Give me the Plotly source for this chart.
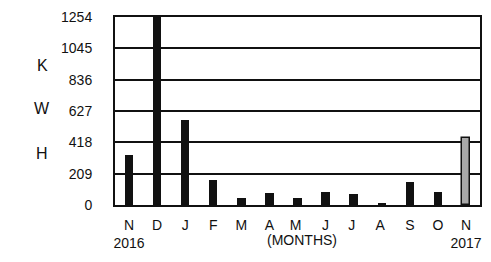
import plotly.graph_objects as go

months = ["N<br>2016", "D", "J", "F", "M", "A", "M ", "J", "J ", "A ", "S", "O", "N<br>2017"]
kwh = [335, 1254, 570, 168, 45, 80, 50, 90, 75, 15, 155, 90, 450]
colors = ["#111111"] * 12 + ["#a8a8a8"]
yticks = [0, 209, 418, 627, 836, 1045, 1254]

# the page body has an 8px margin and clips at its content box; fit inside it
OFF = 8
L, T = 115 - OFF, 17 - OFF
W, H = 491 - 2 * OFF, 262 - 2 * OFF
PW, PH = W - L - 1, 188

fig = go.Figure()
fig.add_trace(go.Bar(
    x=list(range(len(months))), y=kwh, width=0.3,
    marker=dict(color=colors, line=dict(color="#111111", width=[0] * 12 + [1.5])),
))

fig.update_layout(
    width=W, height=H,
    margin=dict(l=L, r=W - L - PW, t=T, b=H - T - PH, pad=0),
    paper_bgcolor="white", plot_bgcolor="white",
    showlegend=False,
    font=dict(family="Liberation Sans Narrow, Arial Narrow, Liberation Sans, sans-serif", size=14, color="#111111"),
    bargap=0,
)
fig.update_xaxes(
    tickmode="array", tickvals=list(range(len(months))), ticktext=months,
    range=[-0.5, len(months) - 0.5], showgrid=False, zeroline=False,
    showline=True, linecolor="#111111", linewidth=2, mirror=True,
    ticks="", ticklabelstandoff=6,
)
fig.update_yaxes(
    tickmode="array", tickvals=yticks, range=[0, 1254],
    showgrid=True, gridcolor="#111111", gridwidth=1.5, zeroline=False,
    showline=True, linecolor="#111111", linewidth=2, mirror=True,
    ticks="", ticklabelstandoff=18,
)
for txt, py in [("K", 65), ("W", 108), ("H", 153)]:
    fig.add_annotation(text=txt, x=(42 - 115) / PW, y=(205 - py) / PH,
                       xref="x domain", yref="y domain", showarrow=False,
                       xanchor="center", yanchor="middle",
                       font=dict(size=16, family="Liberation Sans, Arial, sans-serif"))
fig.add_annotation(text="(MONTHS)", x=(303 - 115) / PW, y=(205 - 240) / PH,
                   xref="x domain", yref="y domain", showarrow=False,
                   xanchor="center", yanchor="middle", font=dict(size=14))
fig.write_html("out.html")
